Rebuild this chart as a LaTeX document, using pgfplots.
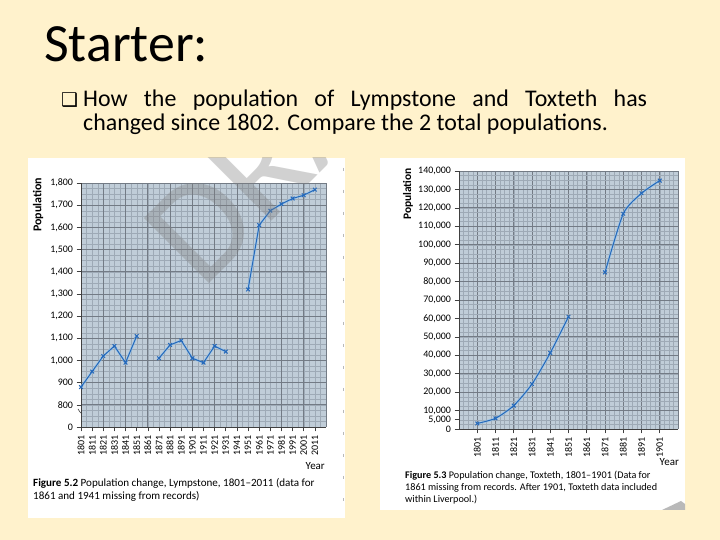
\documentclass[border=0pt]{standalone}
\usepackage{pgfplots}
\pgfplotsset{compat=1.18}
\usepackage{pgfplotstable}
\usepackage{fontspec}
\setmainfont{Carlito}
\newfontfamily\dejavu{DejaVu Sans}

\definecolor{cream}{RGB}{255,242,204}
\definecolor{plotbg}{RGB}{192,205,216}
\definecolor{gridminor}{RGB}{158,170,182}
\definecolor{gridmajor}{RGB}{115,123,133}
\definecolor{lineblue}{RGB}{36,104,186}
\definecolor{halo}{RGB}{150,198,238}

\newcommand{\fivek}{5,000}

% Lympstone, 1801-2011 (index 0 = 1801, step 10 years)
\pgfplotstableread{
x y
0 880
1 950
2 1020
3 1065
4 990
5 1110
6 nan
7 1010
8 1070
9 1090
10 1010
11 990
12 1065
13 1040
14 nan
15 1320
16 1610
17 1675
18 1705
19 1730
20 1745
21 1770
}\lymp

% Toxteth, 1801-1901
\pgfplotstableread{
x y
0 3000
1 5800
2 12700
3 24400
4 41300
5 60900
6 nan
7 85000
8 116800
9 127900
10 134800
}\tox

\pgfplotsset{
  slidechart/.style={
    scale only axis, anchor=south west, clip=false,
    axis lines*=left,
    axis line style={black!75, line width=0.7bp},
    axis background/.style={fill=plotbg},
    unbounded coords=jump,
    tick align=outside, major tick length=4.5bp, minor tick length=0pt,
    tick style={black!75, line width=0.6bp},
    xminorgrids, yminorgrids,
    minor grid style={gridminor, line width=0.35bp},
    major grid style={gridmajor, line width=0.8bp},
    tick label style={font=\fontsize{10}{12}\selectfont},
    x tick label style={rotate=90, anchor=east, font=\fontsize{10}{12}\selectfont},
  },
}

\begin{document}
\begin{tikzpicture}
\begin{scope}[x=1bp,y=1bp]
  \fill[cream] (0,0) rectangle (720,540);
  \node[anchor=base west, inner sep=0] at (44,478) {\fontsize{54}{60}\selectfont Starter:};
  \node[anchor=base west, inner sep=0] at (61,433) {\fontsize{19}{20}\selectfont\dejavu ❑};
  \node[anchor=base west, inner sep=0] at (83,433)
    {\fontsize{24}{28}\selectfont\makebox[564bp][s]{How the population of Lympstone and Toxteth has}};
  \node[anchor=base west, inner sep=0] at (83,409)
    {\fontsize{24}{28}\selectfont changed since 1802. Compare the 2 total populations.};
  \fill[white] (28,22) rectangle (345,382);
  \fill[white] (380,30) rectangle (685,382);
  \draw[gray!55, line width=0.8bp, dash pattern=on 3bp off 19bp] (343,372) -- (343,30);
\end{scope}

% Lympstone
\begin{axis}[slidechart,
  at={(81bp,113bp)}, width=245bp, height=244bp,
  xmin=0, xmax=22, ymin=700, ymax=1800,
  xtick={0,...,21},
  xticklabels={1801,1811,1821,1831,1841,1851,1861,1871,1881,1891,1901,1911,1921,1931,1941,1951,1961,1971,1981,1991,2001,2011},
  ytick={700,800,...,1800},
  yticklabels={0,800,900,{1,000},{1,100},{1,200},{1,300},{1,400},{1,500},{1,600},{1,700},{1,800}},
  ymajorgrids, xmajorgrids=false,
  extra x ticks={2,4,...,22}, extra x tick labels={},
  extra x tick style={grid=major, major tick length=0pt},
  minor xtick={0,0.5,...,22},
  minor ytick={700,725,...,1800},
]
\addplot[halo, line width=2.6bp, opacity=0.6, forget plot] table {\lymp};
\addplot[lineblue, line width=1bp, mark=x, mark size=2.6bp] table {\lymp};
\end{axis}

% Toxteth
\begin{axis}[slidechart,
  at={(459bp,111bp)}, width=219bp, height=258bp,
  xmin=-1, xmax=11, ymin=0, ymax=140000,
  xtick={0,...,10},
  xticklabels={1801,1811,1821,1831,1841,1851,1861,1871,1881,1891,1901},
  ytick={0,10000,...,140000},
  yticklabels={0,{10,000},{20,000},{30,000},{40,000},{50,000},{60,000},{70,000},{80,000},{90,000},{100,000},{110,000},{120,000},{130,000},{140,000}},
  scaled y ticks=false,
  extra y ticks={5000}, extra y tick labels={\fivek},
  extra y tick style={grid=none},
  xmajorgrids, ymajorgrids,
  extra x ticks={11}, extra x tick labels={},
  extra x tick style={grid=major, major tick length=0pt},
  minor xtick={-1,-0.75,...,11},
  minor ytick={0,2500,...,140000},
]
\addplot[halo, line width=2.6bp, opacity=0.6, smooth, tension=0.4, forget plot] table {\tox};
\addplot[lineblue, line width=1bp, smooth, tension=0.4, mark=x, mark size=2.6bp] table {\tox};
\end{axis}

\begin{scope}[x=1bp,y=1bp]
  % watermark
  \begin{scope}
    \clip (28,22) rectangle (345,382);
    \node[rotate=45, anchor=base west, inner sep=0, text=gray, opacity=0.36]
      at (202,249) {\fontsize{144}{144}\selectfont DRAFT};
  \end{scope}
  \fill[gray!55] (662,30) -- (681,39) -- (685,36) -- (685,30) -- cycle;
  % axis break
  \draw[black!75, line width=0.6bp] (78,131) -- (80,128) -- (82,126);
  % axis titles
  \node[rotate=90, inner sep=0, font=\fontsize{12}{14}\selectfont\bfseries] at (38,335) {Population};
  \node[rotate=90, inner sep=0, font=\fontsize{11.5}{14}\selectfont\bfseries] at (408,346) {Population};
  \node[anchor=base east, inner sep=0, font=\fontsize{11}{12}\selectfont] at (325,70) {Year};
  \node[anchor=base east, inner sep=0, font=\fontsize{11}{12}\selectfont] at (679,74) {Year};
  % captions
  \node[anchor=base west, inner sep=0, font=\fontsize{11.1}{13}\selectfont] at (33,53)
    {\textbf{Figure 5.2} Population change, Lympstone, 1801–2011 (data for};
  \node[anchor=base west, inner sep=0, font=\fontsize{11.1}{13}\selectfont] at (33,40)
    {1861 and 1941 missing from records)};
  \node[anchor=base west, inner sep=0, font=\fontsize{10.2}{12}\selectfont] at (405,61)
    {\textbf{Figure 5.3} Population change, Toxteth, 1801–1901 (Data for};
  \node[anchor=base west, inner sep=0, font=\fontsize{10.2}{12}\selectfont] at (405,49)
    {1861 missing from records. After 1901, Toxteth data included};
  \node[anchor=base west, inner sep=0, font=\fontsize{10.2}{12}\selectfont] at (405,37)
    {within Liverpool.)};
\end{scope}
\end{tikzpicture}
\end{document}
